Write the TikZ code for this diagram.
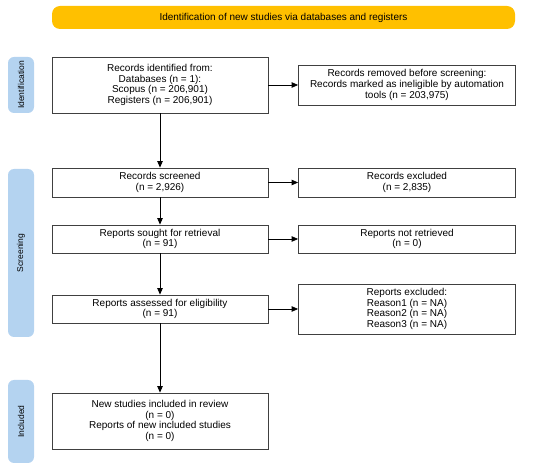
\documentclass[tikz,border=0pt]{standalone}
\usepackage{fontspec}
\setmainfont{Liberation Sans}
\usetikzlibrary{arrows.meta}
\definecolor{banner}{HTML}{FFC000}
\definecolor{sidebl}{HTML}{B4D3F0}
\definecolor{edge}{HTML}{404040}
\begin{document}
\begin{tikzpicture}[x=1pt,y=-1pt,
  box/.style={draw=edge,line width=0.8pt,fill=white,align=center,font=\fontsize{10}{10.8}\selectfont,inner sep=1pt},
  side/.style={fill=sidebl,rounded corners=6pt,rotate=90,font=\fontsize{8.5}{10}\selectfont,inner sep=0.5pt,minimum height=26pt},
  arr/.style={-{Triangle[length=6.5pt,width=5.5pt]},line width=0.8pt,draw=black}]
\useasboundingbox (0,0) rectangle (550,473);
\node[fill=banner,rounded corners=8pt,minimum width=463pt,minimum height=23pt,font=\fontsize{10}{10.8}\selectfont] (ban) at (283.5,17.5) {Identification of new studies via databases and registers};
\node[side,minimum width=56pt] (sid) at (21,85) {Identification};
\node[side,minimum width=168pt] (sscr) at (21,253) {Screening};
\node[side,minimum width=83pt] (sinc) at (21,421.5) {Included};
\node[box,minimum width=216pt,minimum height=56pt] (rid) at (160,85) {Records identified from:\\Databases (n = 1):\\Scopus (n = 206,901)\\Registers (n = 206,901)};
\node[box,minimum width=217pt,minimum height=40pt] (rrem) at (407,85) {Records removed before screening:\\Records marked as ineligible by automation\\tools (n = 203,975)};
\node[box,minimum width=216pt,minimum height=29pt] (rscr) at (160,182.5) {Records screened\\(n = 2,926)};
\node[box,minimum width=217pt,minimum height=29pt] (rexc) at (407,182.5) {Records excluded\\(n = 2,835)};
\node[box,minimum width=216pt,minimum height=28pt] (rsou) at (160,239) {Reports sought for retrieval\\(n = 91)};
\node[box,minimum width=217pt,minimum height=28pt] (rnot) at (407,239) {Reports not retrieved\\(n = 0)};
\node[box,minimum width=216pt,minimum height=28pt] (rass) at (160,309) {Reports assessed for eligibility\\(n = 91)};
\node[box,minimum width=217pt,minimum height=50pt] (rex2) at (407,309) {Reports excluded:\\Reason1 (n = NA)\\Reason2 (n = NA)\\Reason3 (n = NA)};
\node[box,minimum width=216pt,minimum height=56pt] (rinc) at (160,421) {New studies included in review\\(n = 0)\\Reports of new included studies\\(n = 0)};
\draw[arr] (rid) -- (rrem);
\draw[arr] (rid) -- (rscr);
\draw[arr] (rscr) -- (rexc);
\draw[arr] (rscr) -- (rsou);
\draw[arr] (rsou) -- (rnot);
\draw[arr] (rsou) -- (rass);
\draw[arr] (rass) -- (rex2);
\draw[arr] (rass) -- (rinc);
\end{tikzpicture}
\end{document}
